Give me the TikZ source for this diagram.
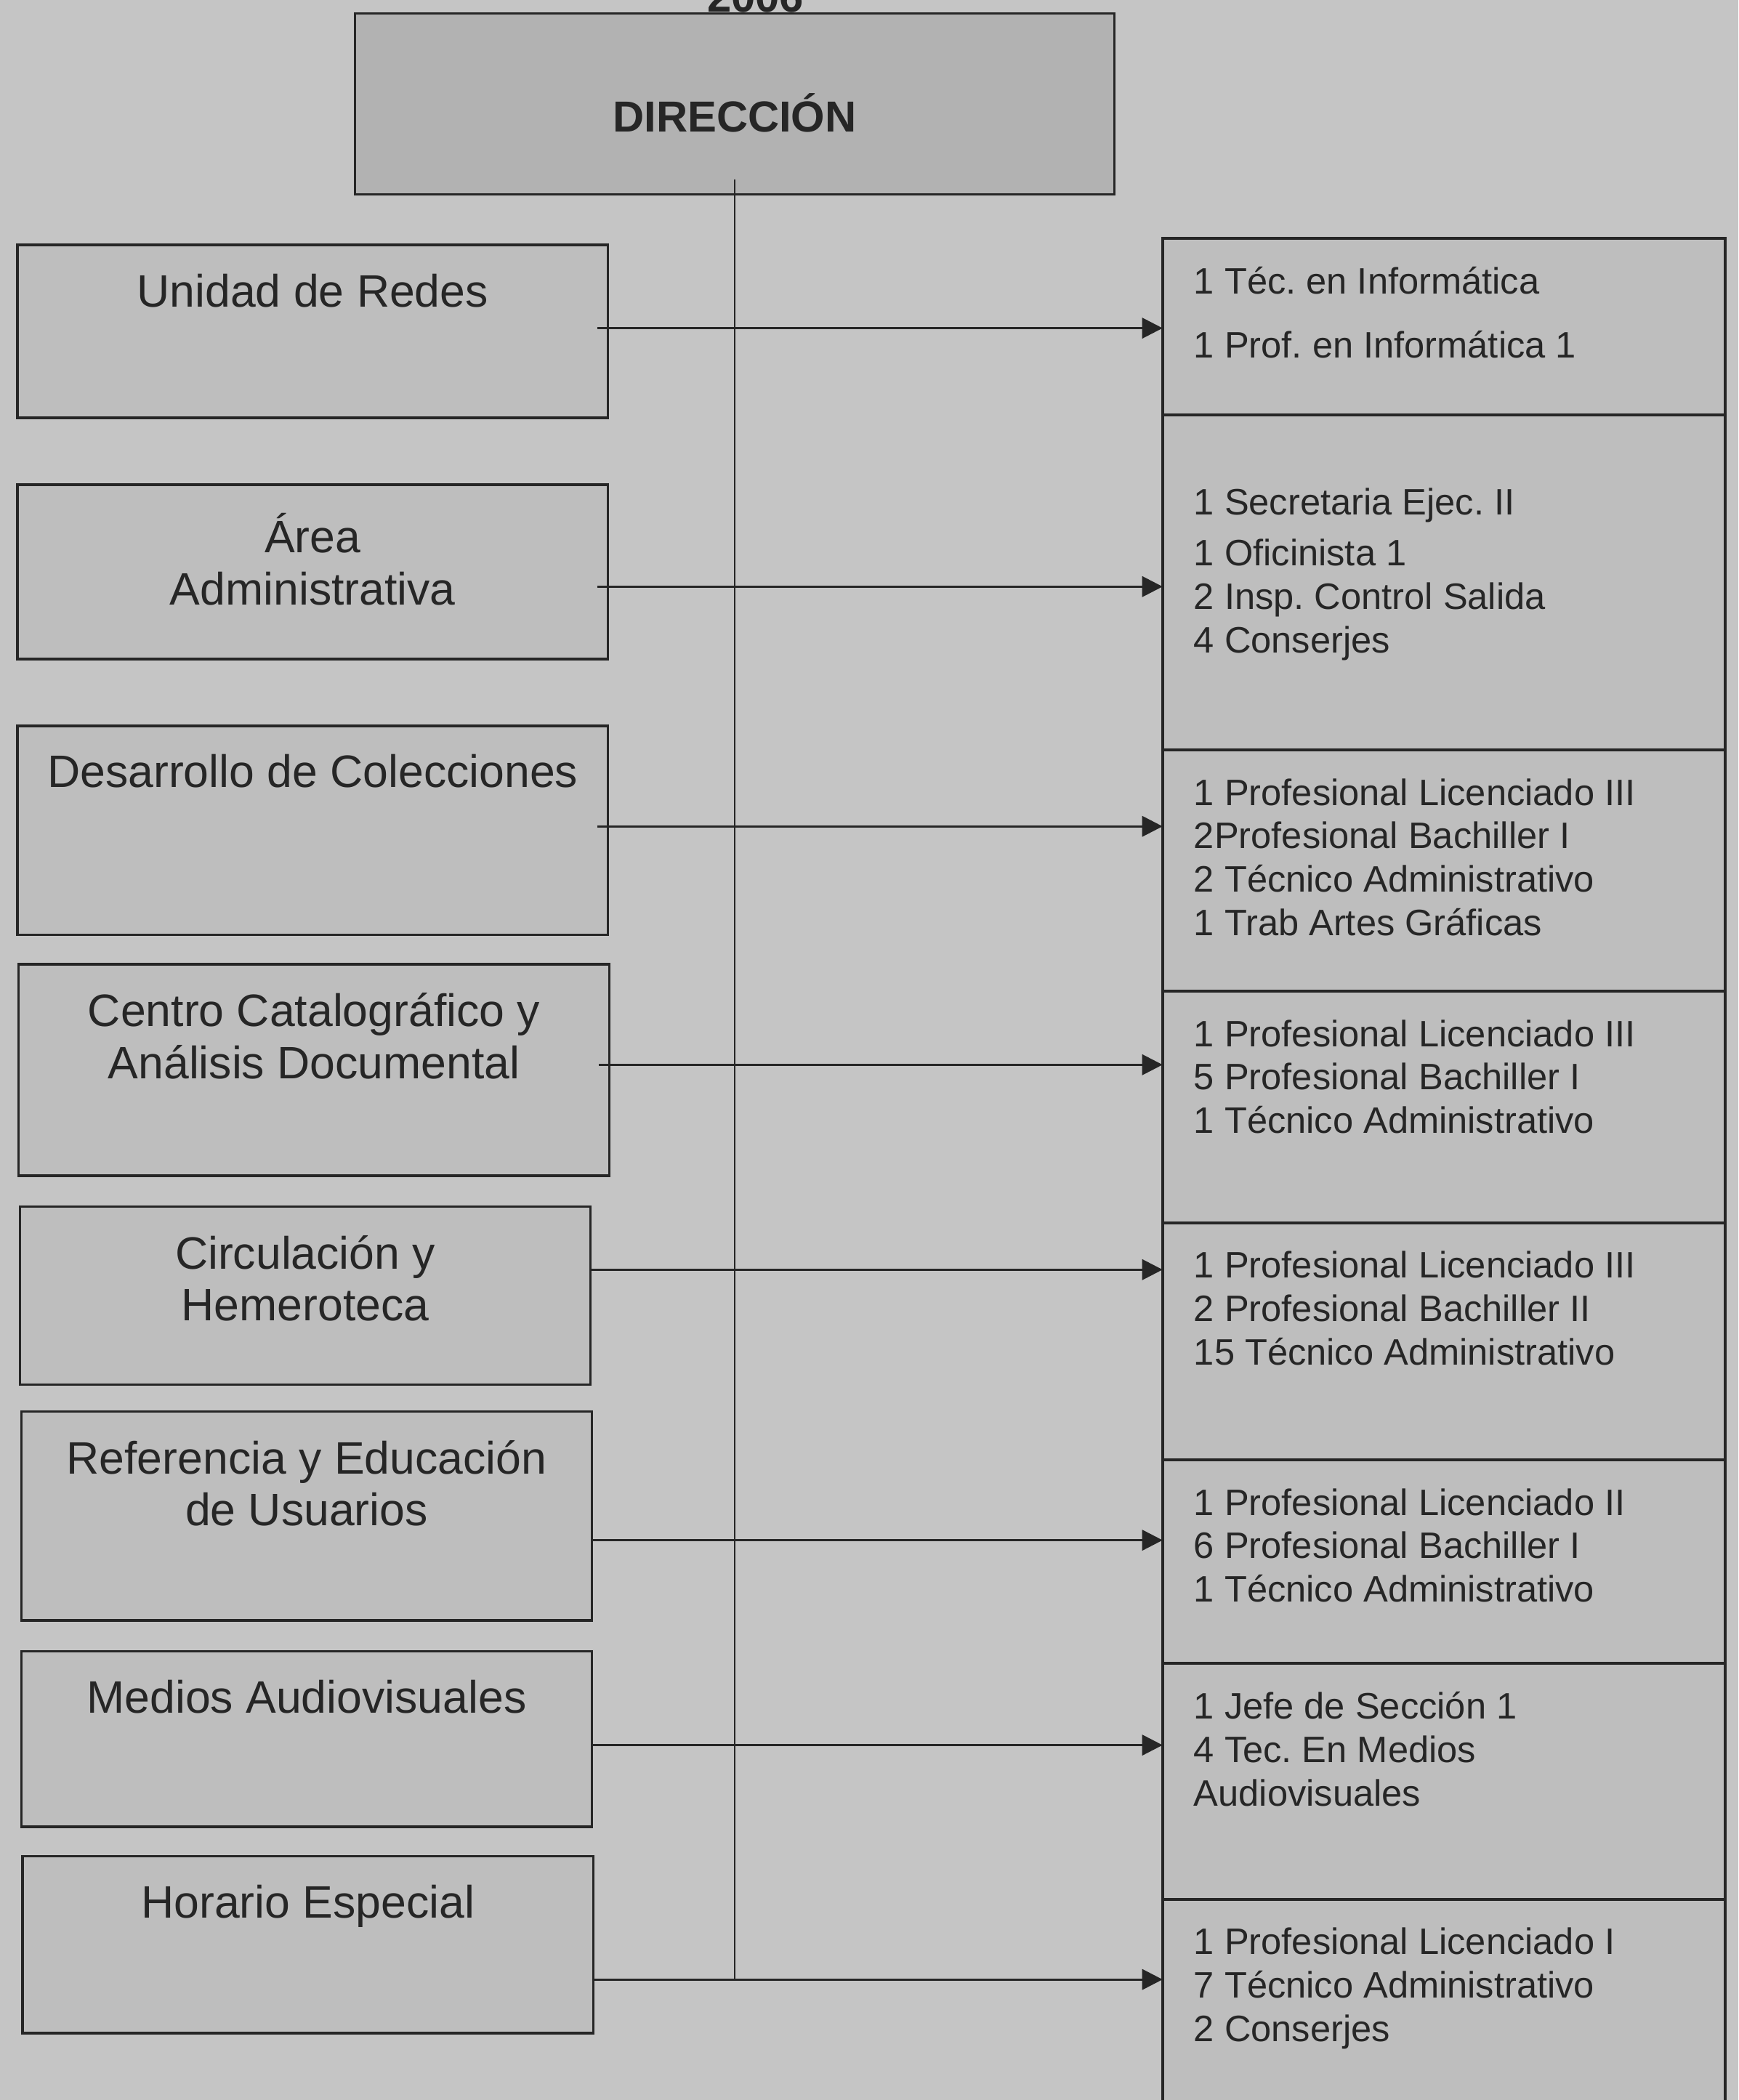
\documentclass[tikz,border=0pt]{standalone}
\usepackage{fontspec}
\setmainfont{Liberation Sans}
\usepackage{tikz}
\usetikzlibrary{arrows.meta,positioning}
\frenchspacing

\definecolor{paper}{RGB}{197,197,197}
\definecolor{boxfill}{RGB}{190,190,190}
\definecolor{dirfill}{RGB}{178,178,178}
\definecolor{ink}{RGB}{38,38,38}

\newlength{\px}
\setlength{\px}{0.018428cm}

\begin{document}
\begin{tikzpicture}[x=0.018428cm, y=-0.018428cm,
    dept/.style={rectangle, draw=ink, line width=1pt, fill=boxfill, minimum width=441\px, inner sep=0pt, anchor=north west},
    staff/.style={rectangle, draw=ink, line width=1.1pt, fill=boxfill, minimum width=420\px, inner sep=0pt, outer sep=0pt},
    depttext/.style={anchor=north, yshift=-22\px, inner sep=0pt, align=center, text=ink, font=\fontsize{17.8}{20.4}\selectfont},
    stafftext/.style={anchor=north west, xshift=23\px, yshift=-21\px, inner sep=0pt, align=left, text=ink, font=\fontsize{14.4}{17}\selectfont},
    arr/.style={-{Triangle[length=8pt,width=8pt]}, draw=ink, line width=0.9pt},
    trunk/.style={draw=ink, line width=0.6pt}]
    \useasboundingbox (0,0) rectangle (1298,1568);
    \clip (0,0) rectangle (1298,1568);
    \fill[paper] (0,0) rectangle (1298,1568);

    % top
    \node (year) [anchor=base, text=ink, font=\bfseries\fontsize{17}{20}\selectfont] at (564,9) {2006};
    \node (dir) [rectangle, draw=ink, line width=1pt, fill=dirfill, minimum width=567\px, minimum height=135\px, text height=22pt, text depth=0pt, text=ink, font=\bfseries\fontsize{17}{20}\selectfont] at (548.5,77.5) {DIRECCIÓN};

    % departments
    \node (redes) [dept, minimum height=129\px, label={[depttext]north:Unidad de Redes}] at (12,182) {};
    \node (area) [dept, minimum height=130\px, label={[depttext]north:Área\\Administrativa}] at (12,361) {};
    \node (colecciones) [dept, minimum height=156\px, label={[depttext]north:Desarrollo de Colecciones}] at (12,541) {};
    \node (catalogo) [dept, minimum height=158\px, label={[depttext]north:Centro Catalográfico y\\Análisis Documental}] at (13,719) {};
    \node (circulacion) [dept, minimum width=426\px, minimum height=133\px, label={[depttext]north:Circulación y\\Hemeroteca}] at (14,900) {};
    \node (referencia) [dept, minimum width=426\px, minimum height=156\px, label={[depttext]north:Referencia y Educación\\de Usuarios}] at (15,1053) {};
    \node (audiovisual) [dept, minimum width=426\px, minimum height=131\px, label={[depttext]north:Medios Audiovisuales}] at (15,1232) {};
    \node (horario) [dept, minimum width=426\px, minimum height=132\px, label={[depttext]north:Horario Especial}] at (16,1385) {};

    % staff
    \node (plazas-redes) [staff, anchor=north west, minimum height=132\px, label={[stafftext]north west:1 Téc. en Informática\\[8pt]1 Prof. en Informática 1}] at (868,178) {};
    \node (plazas-area) [staff, minimum height=250\px, below=0pt of plazas-redes, label={[stafftext, yshift=-33\px]north west:1 Secretaria Ejec. II\\[3pt]1 Oficinista 1\\2 Insp. Control Salida\\4 Conserjes}] {};
    \node (plazas-colecciones) [staff, minimum height=180\px, below=0pt of plazas-area, label={[stafftext]north west:1 Profesional Licenciado III\\2Profesional Bachiller I\\2 Técnico Administrativo\\1 Trab Artes Gráficas}] {};
    \node (plazas-catalogo) [staff, minimum height=173\px, below=0pt of plazas-colecciones, label={[stafftext]north west:1 Profesional Licenciado III\\5 Profesional Bachiller I\\1 Técnico Administrativo}] {};
    \node (plazas-circulacion) [staff, minimum height=177\px, below=0pt of plazas-catalogo, label={[stafftext]north west:1 Profesional Licenciado III\\2 Profesional Bachiller II\\15 Técnico Administrativo}] {};
    \node (plazas-referencia) [staff, minimum height=152\px, below=0pt of plazas-circulacion, label={[stafftext]north west:1 Profesional Licenciado II\\6 Profesional Bachiller I\\1 Técnico Administrativo}] {};
    \node (plazas-audiovisual) [staff, minimum height=176\px, below=0pt of plazas-referencia, label={[stafftext]north west:1 Jefe de Sección 1\\4 Tec. En Medios\\Audiovisuales}] {};
    \node (plazas-horario) [staff, minimum height=200\px, below=0pt of plazas-audiovisual, label={[stafftext]north west:1 Profesional Licenciado I\\7 Técnico Administrativo\\2 Conserjes}] {};

    \draw[trunk] ([yshift=12\px]dir.south) -- (dir.south |- 0,1478);

    \draw[arr] ([xshift=-9\px]redes.east |- 0,245) -- (plazas-redes.west |- 0,245);
    \draw[arr] ([xshift=-9\px]area.east |- 0,438) -- (plazas-area.west |- 0,438);
    \draw[arr] ([xshift=-9\px]colecciones.east |- 0,617) -- (plazas-colecciones.west |- 0,617);
    \draw[arr] ([xshift=-9\px]catalogo.east |- 0,795) -- (plazas-catalogo.west |- 0,795);
    \draw[arr] (circulacion.east |- 0,948) -- (plazas-circulacion.west |- 0,948);
    \draw[arr] (referencia.east |- 0,1150) -- (plazas-referencia.west |- 0,1150);
    \draw[arr] (audiovisual.east |- 0,1303) -- (plazas-audiovisual.west |- 0,1303);
    \draw[arr] (horario.east |- 0,1478) -- (plazas-horario.west |- 0,1478);
\end{tikzpicture}
\end{document}
